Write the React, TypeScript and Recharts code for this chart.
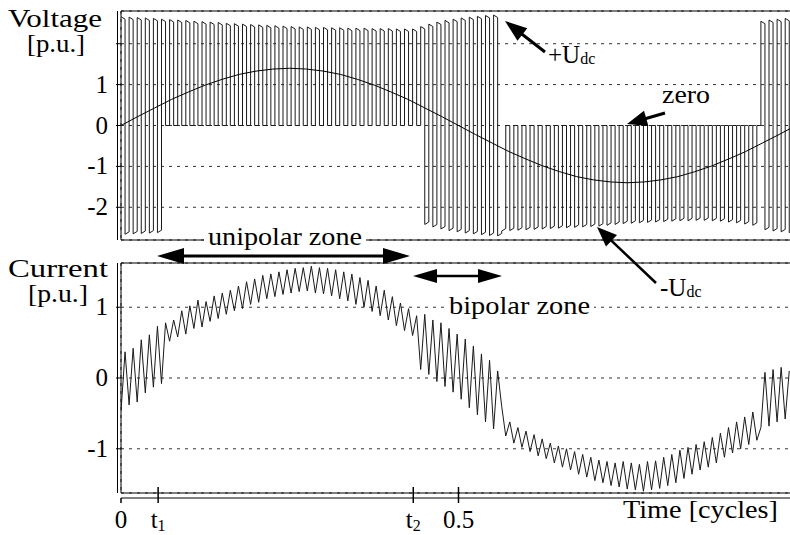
import React from "react";
import { ComposedChart, Line, XAxis, YAxis, CartesianGrid, ReferenceArea } from "recharts";

// PWM carrier period in cycles (pulse spacing is about 8 px on a 675 px cycle)
const carrierPeriod = 0.012;

// switching zones: B = bipolar, P = unipolar positive, N = unipolar negative
const zoneModes = ["B", "P", "B", "N", "B"];
const zonePulses = [5, 32, 10, 32, 4];

// dc-link level per carrier period [p.u.]
const dcLevel = [
  2.66, 2.65, 2.64, 2.63, 2.62,
  2.6, 2.59, 2.58, 2.57, 2.55, 2.54, 2.53, 2.52, 2.5, 2.49, 2.48, 2.47, 2.46, 2.45, 2.44, 2.43,
  2.42, 2.41, 2.41, 2.4, 2.4, 2.39, 2.39, 2.38, 2.38, 2.38, 2.37, 2.37, 2.37, 2.36, 2.36, 2.36,
  2.42, 2.48, 2.53, 2.57, 2.6, 2.63, 2.65, 2.67, 2.69, 2.7,
  2.58, 2.57, 2.56, 2.55, 2.54, 2.53, 2.52, 2.51, 2.5, 2.49, 2.48, 2.47, 2.46, 2.44, 2.42, 2.4,
  2.39, 2.38, 2.37, 2.36, 2.35, 2.34, 2.33, 2.33, 2.32, 2.32, 2.33, 2.34, 2.36, 2.38, 2.41, 2.44,
  2.55, 2.58, 2.6, 2.62,
];

// current at the start and at the middle of each carrier period [p.u.]
const currentStart = [
  -0.47, -0.38, -0.34, -0.21, -0.13,
  -0.08, 0.52, 0.58, 0.62, 0.7, 0.72, 0.8, 0.84, 0.9, 0.95, 0.98, 1.04, 1.07, 1.12, 1.15, 1.18,
  1.2, 1.22, 1.23, 1.2, 1.19, 1.16, 1.12, 1.09, 1.04, 1.0, 0.94, 0.88, 0.82, 0.74, 0.67, 0.6,
  0.12, 0.05, -0.05, -0.12, -0.2, -0.3, -0.42, -0.52, -0.62, -0.72,
  -0.4, -0.62, -0.7, -0.75, -0.8, -0.86, -0.92, -0.96, -1.0, -1.04, -1.08, -1.12, -1.16, -1.18, -1.2, -1.18,
  -1.2, -1.22, -1.18, -1.17, -1.12, -1.08, -1.02, -0.98, -0.94, -0.9, -0.84, -0.78, -0.7, -0.62, -0.55, -0.48,
  -0.7, -0.68, -0.62, -0.58,
];
const currentMid = [
  0.37, 0.42, 0.54, 0.61, 0.73,
  0.78, 0.82, 0.95, 1.02, 1.1, 1.08, 1.16, 1.2, 1.24, 1.3, 1.36, 1.4, 1.45, 1.47, 1.5, 1.53,
  1.55, 1.56, 1.58, 1.56, 1.55, 1.53, 1.5, 1.47, 1.42, 1.38, 1.3, 1.24, 1.15, 1.06, 0.98, 0.88,
  0.9, 0.82, 0.78, 0.7, 0.62, 0.55, 0.45, 0.34, 0.25, 0.1,
  -0.82, -0.92, -0.98, -1.04, -1.1, -1.14, -1.2, -1.26, -1.3, -1.36, -1.4, -1.45, -1.48, -1.52, -1.54, -1.57,
  -1.58, -1.6, -1.58, -1.56, -1.52, -1.48, -1.42, -1.36, -1.3, -1.26, -1.2, -1.12, -1.06, -1.0, -0.94, -0.88,
  0.08, 0.12, 0.15, 0.1,
];

// reference (fundamental) voltage
const refTime = [
  0, 0.025, 0.05, 0.075, 0.1, 0.125, 0.15, 0.175, 0.2, 0.225, 0.25, 0.275, 0.3, 0.325,
  0.35, 0.375, 0.4, 0.425, 0.45, 0.475, 0.5, 0.525, 0.55, 0.575, 0.6, 0.625, 0.65, 0.675,
  0.7, 0.725, 0.75, 0.775, 0.8, 0.825, 0.85, 0.875, 0.9, 0.925, 0.95, 0.975, 1,
];
const refVoltage = [
  0, 0.22, 0.43, 0.64, 0.82, 0.99, 1.13, 1.25, 1.33, 1.38, 1.4, 1.38, 1.33, 1.25,
  1.13, 0.99, 0.82, 0.64, 0.43, 0.22, 0, -0.22, -0.43, -0.64, -0.82, -0.99, -1.13, -1.25,
  -1.33, -1.38, -1.4, -1.38, -1.33, -1.25, -1.13, -0.99, -0.82, -0.64, -0.43, -0.22, 0,
];

const gridTimes = [0.25, 0.5, 0.75];
const timeTicks = [0, 0.055, 0.433, 0.5];
const timeTickLabels = ["0", "t1", "t2", "0.5"];
const voltageTicks = [-2, -1, 0, 1, 2];
const currentTicks = [-1, 0, 1];
const topDroop = 0.06;

type Pt = { t: number; v: number };

const voltageData: Pt[] = [];
const currentData: Pt[] = [];
let pulse = 0;
zoneModes.forEach((mode, z) => {
  for (let n = 0; n < zonePulses[z]; n++) {
    const t0 = pulse * carrierPeriod;
    const tm = t0 + carrierPeriod / 2;
    const t1 = t0 + carrierPeriod;
    const u = dcLevel[pulse];
    const first = mode === "N" ? -u : u;
    const d1 = first > 0 ? -topDroop : topDroop;
    voltageData.push({ t: t0, v: first }, { t: tm, v: first + d1 });
    if (mode === "B") voltageData.push({ t: tm, v: -u }, { t: t1, v: -u + topDroop });
    else voltageData.push({ t: tm, v: 0 }, { t: t1, v: 0 });
    currentData.push({ t: t0, v: currentStart[pulse] }, { t: tm, v: currentMid[pulse] });
    pulse++;
  }
});
const refData: Pt[] = refTime.map((t, i) => ({ t, v: refVoltage[i] }));

const FONT = "'Liberation Serif', 'Times New Roman', Times, serif";
const FS = 25;
const textStyle = { fontFamily: FONT, fontSize: FS };

const ValueTick = (props: any) => {
  const { x, y, payload } = props;
  if (payload.value === 2) return null;
  return (
    <text x={x} y={y + 8} textAnchor="end" style={textStyle} fill="#000">
      {payload.value}
    </text>
  );
};

const TimeTick = (props: any) => {
  const { x, y, payload } = props;
  const i = timeTicks.indexOf(payload.value);
  const label = timeTickLabels[i] ?? "";
  const isSub = label.startsWith("t");
  return (
    <g>
      <line x1={x} x2={x} y1={payload.value === 0 ? y : y - 11} y2={y + 5} stroke="#000" strokeWidth={1.5} />
      <text x={x} y={y + 30} textAnchor="middle" style={textStyle} fill="#000">
        {isSub ? "t" : label}
        {isSub && (
          <tspan style={{ fontSize: 16 }} dy={3}>
            {label.slice(1)}
          </tspan>
        )}
      </text>
    </g>
  );
};

const Arrow = ({ x1, y1, x2, y2, w = 2.5, head = 18, half = 7 }: any) => {
  const dx = x2 - x1;
  const dy = y2 - y1;
  const len = Math.hypot(dx, dy);
  const ux = dx / len;
  const uy = dy / len;
  const bx = x2 - ux * head;
  const by = y2 - uy * head;
  const px = -uy * half;
  const py = ux * half;
  return (
    <g>
      <line x1={x1} y1={y1} x2={bx + ux * 2} y2={by + uy * 2} stroke="#000" strokeWidth={w} />
      <polygon points={`${x2},${y2} ${bx + px},${by + py} ${bx - px},${by - py}`} fill="#000" />
    </g>
  );
};

const Txt = ({ x, y, w, children }: any) => (
  <text x={x} y={y} textLength={w} lengthAdjust="spacingAndGlyphs" style={textStyle} fill="#000">
    {children}
  </text>
);

export default function App() {
  return (
    <div style={{ position: "absolute", left: 0, top: 0, width: 790, height: 535, overflow: "hidden", background: "#fff" }}>
      <div style={{ position: "absolute", left: 0, top: 0 }}>
        <ComposedChart width={800} height={250} margin={{ top: 11, right: 4, bottom: 0, left: 0 }}>
          <CartesianGrid stroke="#333" strokeDasharray="3 5" />
          <XAxis dataKey="t" type="number" domain={[0, 1]} ticks={gridTimes} allowDataOverflow
            tick={false} tickLine={false} axisLine={false} height={10} />
          <YAxis type="number" domain={[-2.8, 2.8]} ticks={voltageTicks} allowDataOverflow width={121}
            axisLine={false} tickLine={{ stroke: "#000" }} tickSize={5} tickMargin={8} tick={<ValueTick />} />
          <ReferenceArea x1={0} x2={1} y1={-2.8} y2={2.8} fill="none" stroke="#000" strokeWidth={1} />
          <Line data={voltageData} dataKey="v" type="linear" stroke="#1a1a1a" strokeWidth={1}
            dot={false} activeDot={false} isAnimationActive={false} />
          <Line data={refData} dataKey="v" type="linear" stroke="#000" strokeWidth={1}
            dot={false} activeDot={false} isAnimationActive={false} />
        </ComposedChart>
      </div>
      <div style={{ position: "absolute", left: 0, top: 253 }}>
        <ComposedChart width={800} height={282} margin={{ top: 10, right: 4, bottom: 0, left: 0 }}>
          <CartesianGrid stroke="#333" strokeDasharray="3 5" />
          <XAxis dataKey="t" type="number" domain={[0, 1]} ticks={gridTimes} allowDataOverflow
            tick={false} tickLine={false} axisLine={false} height={5} />
          <XAxis xAxisId="time" dataKey="t" type="number" domain={[0, 1]} ticks={timeTicks} allowDataOverflow
            interval={0} height={37} tickSize={0} tickMargin={0} tickLine={false} axisLine={{ stroke: "#000" }}
            tick={<TimeTick />} />
          <YAxis type="number" domain={[-1.625, 1.625]} ticks={currentTicks} allowDataOverflow width={121}
            axisLine={false} tickLine={{ stroke: "#000" }} tickSize={5} tickMargin={8} tick={<ValueTick />} />
          <ReferenceArea x1={0} x2={1} y1={-1.625} y2={1.625} fill="none" stroke="#000" strokeWidth={1} />
          <Line data={currentData} dataKey="v" type="linear" stroke="#1a1a1a" strokeWidth={1}
            dot={false} activeDot={false} isAnimationActive={false} />
          {/* same series bound to the time axis, invisible, so that axis gets its ticks */}
          <Line data={currentData} xAxisId="time" dataKey="v" type="linear" stroke="none"
            dot={false} activeDot={false} isAnimationActive={false} />
        </ComposedChart>
      </div>
      <div style={{ position: "absolute", left: 117, top: 11, height: 229, borderLeft: "1px solid #000" }} />
      <div style={{ position: "absolute", left: 117, top: 263, height: 230, borderLeft: "1px solid #000" }} />
      <svg width={790} height={535} style={{ position: "absolute", left: 0, top: 0 }}>
        <Txt x={8} y={27} w={94}>Voltage</Txt>
        <Txt x={27} y={52} w={58}>[p.u.]</Txt>
        <Txt x={8} y={277} w={100}>Current</Txt>
        <Txt x={28} y={302} w={60}>[p.u.]</Txt>

        <rect x={204} y={226} width={162} height={24} fill="#fff" />
        <Txt x={208} y={245} w={154}>unipolar zone</Txt>
        <rect x={446} y={294} width={148} height={26} fill="#fff" />
        <Txt x={449} y={314} w={141}>bipolar zone</Txt>
        <Txt x={662} y={103} w={48}>zero</Txt>
        <Txt x={623} y={518} w={155}>Time [cycles]</Txt>

        <text x={548} y={63} style={textStyle} fill="#000">
          +U<tspan style={{ fontSize: 16 }} dy={1}>dc</tspan>
        </text>
        <text x={660} y={296} style={textStyle} fill="#000">
          -U<tspan style={{ fontSize: 16 }} dy={1}>dc</tspan>
        </text>

        <Arrow x1={545} y1={52} x2={505} y2={21} w={3} head={22} half={8} />
        <Arrow x1={665} y1={113} x2={627} y2={124} w={3} head={20} half={8} />
        <Arrow x1={656} y1={283} x2={597} y2={227} w={2.5} head={20} half={8} />

        <Arrow x1={283} y1={256} x2={157} y2={256} w={3} head={27} half={8} />
        <Arrow x1={283} y1={256} x2={410} y2={256} w={3} head={27} half={8} />
        <Arrow x1={457} y1={276} x2={413} y2={276} w={2.5} head={24} half={7} />
        <Arrow x1={457} y1={276} x2={502} y2={276} w={2.5} head={24} half={7} />
      </svg>
    </div>
  );
}
